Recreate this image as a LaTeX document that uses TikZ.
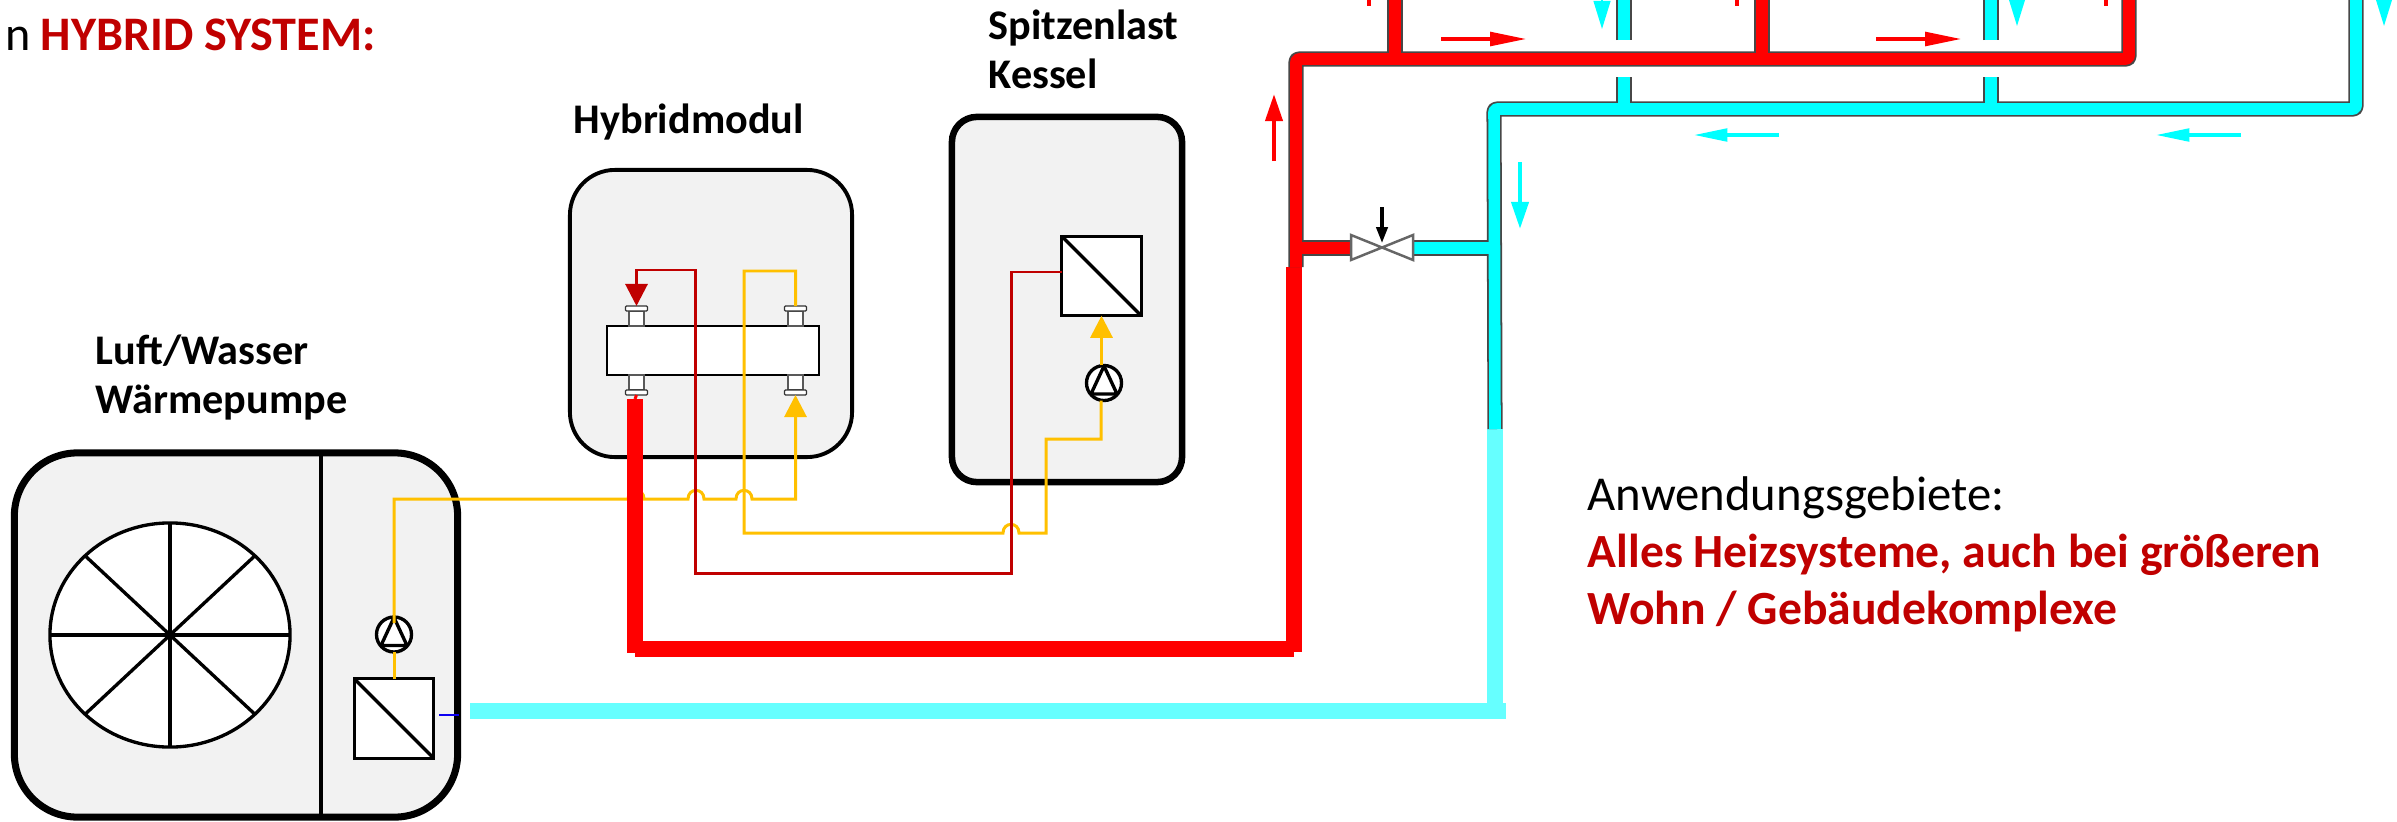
\documentclass[tikz,border=0pt]{standalone}
\usepackage{fontspec}
\setmainfont{Carlito}
\usetikzlibrary{arrows.meta, shapes.geometric}
\definecolor{boxgrey}{HTML}{F2F2F2}
\definecolor{darkred}{HTML}{C00000}
\definecolor{amber}{HTML}{FFC000}
\definecolor{palecyan}{HTML}{66FFFF}
\definecolor{purecyan}{HTML}{00FFFF}

\begin{document}
\begin{tikzpicture}[x=0.01cm, y=-0.01cm,
            unit/.style={draw, fill=boxgrey, outer sep=0pt},
            exchanger/.style={draw, fill=white, line width=0.95pt, outer sep=0pt, minimum size=0.795cm,
                path picture={\draw[line width=0.95pt] (path picture bounding box.north west) -- (path picture bounding box.south east);}},
            pump/.style={circle, draw, fill=white, line width=0.95pt, inner sep=0pt, outer sep=0pt, minimum size=0.35cm,
                path picture={\draw[line width=0.95pt] (path picture bounding box.center) ++(0,-17) -- ++(13,28) -- ++(-26,0) -- cycle;}},
            stub/.style={draw=black!65, fill=white, line width=0.4pt, inner sep=0pt, minimum width=0.15cm, minimum height=0.15cm},
            flange/.style={draw=black!80, fill=white, line width=0.35pt, inner sep=0pt, outer sep=0pt, rounded corners=0.3pt, minimum width=0.22cm, minimum height=0.05cm},
            hotline/.style={darkred, line width=0.85pt},
            warmline/.style={amber, line width=0.85pt},
            intotip/.style={-{Triangle[length=6.3pt, width=6.3pt]}},
            redflow/.style={red, line width=1.25pt},
            cyanflow/.style={purecyan, line width=1.25pt},
            fanline/.style={line width=0.95pt},
            heading/.style={anchor=base west, font=\fontsize{13.7}{16}\selectfont\bfseries, text=darkred},
            usetext/.style={anchor=base west, font=\fontsize{13.55}{16}\selectfont\bfseries, text=darkred},
            unitlabel/.style={anchor=base west, font=\fontsize{12}{14}\selectfont\bfseries}]
        \tikzstyle{every node}=[inner sep=0pt]
        \useasboundingbox (0,0) rectangle (2397,821);

        \node[unit, rounded corners=0.63cm, line width=2pt, minimum width=4.43cm, minimum height=3.64cm] (wp) at (236,635) {};
        \node[unit, rounded corners=0.45cm, line width=1.1pt, minimum width=2.82cm, minimum height=2.87cm] (modul) at (711,313.5) {};
        \node[unit, rounded corners=0.25cm, line width=1.85pt, minimum width=2.30cm, minimum height=3.65cm] (kessel) at (1067,299.5) {};

        \coordinate (divtop) at (321,453);
        \coordinate (divbot) at (321,817);
        \draw[line width=1pt] (divtop) -- (divbot);
        \node[ellipse, draw, fill=white, fanline, outer sep=0pt, minimum width=2.40cm, minimum height=2.24cm] (fan) at (170,635) {};
        \draw[fanline] (fan.north) -- (fan.south);
        \draw[fanline] (fan.west) -- (fan.east);
        \draw[fanline] (fan.north west) -- (fan.south east);
        \draw[fanline] (fan.north east) -- (fan.south west);

        \node[exchanger] (hxwp) at (394,718.5) {};
        \node[pump] (pumpwp) at (394,634.5) {};
        \node[exchanger] (hxk) at (1101.5,276) {};
        \node[pump] (pumpk) at (1104,383) {};

        \node[draw, fill=white, line width=0.35pt, outer sep=0pt, minimum width=2.12cm, minimum height=0.49cm] (header) at (713,350.5) {};
        \foreach \fname/\fx/\stuby/\flangey in {tl/636.5/318.5/308.5, tr/795.5/318.5/308.5, bl/636.5/382.5/392.5, br/795.5/382.5/392.5} {
            \node[stub] (stub\fname) at (\fx,\stuby) {};
            \node[flange] (fl\fname) at (\fx,\flangey) {};
        }

        \coordinate (ywp) at (394,623);
        \coordinate (ykessel) at (1101,439);
        \coordinate (hxin) at (1062,272);
        \coordinate (bluea) at (439,715);
        \coordinate (blueb) at (459,715);
        \draw[warmline] (hxwp.north) -- (pumpwp.south);
        \draw[warmline, intotip] (ywp) -- (394,499) -- (628,499)
            .. controls (628,487.5) and (644,487.5) .. (644,499) -- (688,499)
            .. controls (688,487.5) and (704,487.5) .. (704,499) -- (736,499)
            .. controls (736,487.5) and (752,487.5) .. (752,499) -- (795.5,499) -- (flbr.south);
        \draw[warmline] (fltr.north) -- (795.5,271) -- (744,271) -- (744,533) -- (1003,533)
            .. controls (1003,521.5) and (1019,521.5) .. (1019,533) -- (1046,533) -- (1046,439) -- (ykessel) -- (pumpk.south -| ykessel);
        \draw[warmline, intotip] (pumpk.north -| hxk) -- (hxk.south);
        \draw[hotline, intotip] (hxin) -- (1011,272) -- (1011,573) -- (695,573) -- (695,270) -- (636.5,270) -- (fltl.north);
        \draw[blue!90!violet, line width=0.6pt] (bluea) -- (blueb);

        \coordinate (redstart) at (635,399);
        \coordinate (redend) at (1294,267);
        \coordinate (cyanstart) at (470,711);
        \coordinate (cyanend) at (1495,429);
        \draw[red, line width=0.85pt] (flbl.south) -- (redstart);
        \draw[red, line width=4.55pt] (redstart) -- (635,653);
        \draw[red, line width=4.55pt] (635,649) -- (1294,649);
        \draw[red, line width=4.55pt] (1294,652) -- (redend);
        \draw[palecyan, line width=4.55pt] (cyanstart) -- (1506,711);
        \draw[palecyan, line width=4.55pt] (cyanend) -- (1495,703);

        \coordinate (valveleft) at (1351,248);
        \coordinate (valveright) at (1413,248);
        \coordinate (valvetop) at (1382,207);
        \coordinate (valve) at (1382,243);
        \foreach \pipered/\pipecyan/\pipew in {black!72/black!72/4.3pt, red/purecyan/3.3pt} {
            \draw[\pipered, line width=\pipew, rounded corners=0.8pt, line join=round] (1296,267) -- (1296,59) -- (2129,59) -- (2129,0);
            \draw[\pipered, line width=\pipew] (1395,59) -- (1395,0);
            \draw[\pipered, line width=\pipew] (1762,59) -- (1762,0);
            \draw[\pipered, line width=\pipew] (1296,248) -- (valveleft);
            \draw[\pipecyan, line width=\pipew, rounded corners=0.8pt, line join=round] (cyanend) -- (1494,109) -- (2356,109) -- (2356,0);
            \draw[\pipecyan, line width=\pipew] (1624,109) -- (1624,77);
            \draw[\pipecyan, line width=\pipew] (1624,40) -- (1624,0);
            \draw[\pipecyan, line width=\pipew] (1991,109) -- (1991,77);
            \draw[\pipecyan, line width=\pipew] (1991,40) -- (1991,0);
            \draw[\pipecyan, line width=\pipew] (valveright) -- (1494,248);
        }
        \draw[draw=black!60, fill=white, line width=0.7pt] (1351,235) -- (1351,260) -- (1413,235) -- (1413,260) -- cycle;
        \draw[line width=0.9pt, -{Triangle[length=4.5pt, width=3.2pt]}] (valvetop) -- (valve);

        \draw[redflow, -{Triangle[length=7.7pt, width=4.8pt]}] (1274,161) -- (1274,94);
        \draw[redflow, -{Triangle[length=10.5pt, width=3.8pt]}] (1441,39) -- (1527,39);
        \draw[redflow, -{Triangle[length=10.5pt, width=3.8pt]}] (1876,39) -- (1962,39);
        \foreach \stubx in {1369, 1737, 2106} {
            \draw[redflow] (\stubx,0) -- (\stubx,6);
        }
        \draw[cyanflow, -{Triangle[length=7.7pt, width=4.8pt]}] (1520,162) -- (1520,229);
        \draw[cyanflow, -{Triangle[length=9.8pt, width=3.5pt]}] (1779,135) -- (1693,135);
        \draw[cyanflow, -{Triangle[length=9.8pt, width=3.5pt]}] (2241,135) -- (2155,135);
        \foreach \tipx/\tipy in {1602/29, 2017/26, 2384/26} {
            \draw[purecyan, line width=0.5pt, -{Triangle[length=8pt, width=4.8pt]}] (\tipx,0) -- (\tipx,\tipy);
        }

        \node[anchor=base west, font=\fontsize{13.7}{16}\selectfont] (intro) at (5,50) {n};
        \node[heading] (title) at (40,50) {HYBRID SYSTEM:};
        \node[unitlabel] (labhybrid) at (573,133) {Hybridmodul};
        \node[unitlabel] (labspitze) at (988,39) {Spitzenlast};
        \node[unitlabel] (labkessel) at (988,88) {Kessel};
        \node[unitlabel] (labluft) at (95,364) {Luft/Wasser};
        \node[unitlabel] (labwaerme) at (95,413) {Wärmepumpe};
        \node[anchor=base west, font=\fontsize{13.85}{16}\selectfont] (labgebiete) at (1587,510) {Anwendungsgebiete:};
        \node[usetext] (laballes) at (1587,567) {Alles Heizsysteme, auch bei größeren};
        \node[usetext] (labwohn) at (1587,624) {Wohn / Gebäudekomplexe};
    \end{tikzpicture}
\end{document}
